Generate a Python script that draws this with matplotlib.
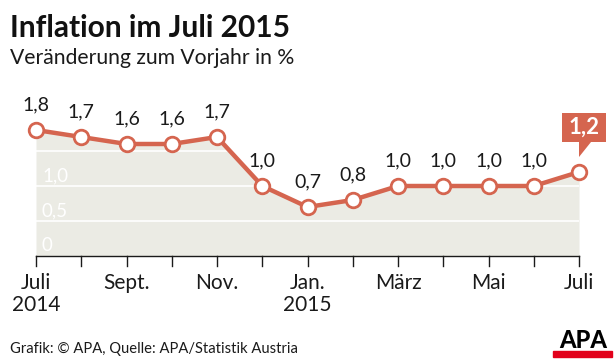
import matplotlib
matplotlib.use('Agg')
import matplotlib.pyplot as plt
from matplotlib.patches import Polygon, Rectangle
from matplotlib.transforms import IdentityTransform

# data
months = list(range(13))
values = [1.8, 1.7, 1.6, 1.6, 1.7, 1.0, 0.7, 0.8, 1.0, 1.0, 1.0, 1.0, 1.2]
value_labels = ['1,8', '1,7', '1,6', '1,6', '1,7', '1,0', '0,7', '0,8', '1,0', '1,0', '1,0', '1,0', '1,2']
tick_pos = [0, 2, 4, 6, 8, 10, 12]
tick_labels = ['Juli\n2014', 'Sept.', 'Nov.', 'Jan.\n2015', 'März', 'Mai', 'Juli']
grid_vals = [0.5, 1.0, 1.5]
ylab_vals = [0, 0.5, 1.0]
ylab_text = ['0', '0,5', '1,0']

RED = '#d5654f'
FILL = '#ebebe4'
FONT = 'Lato'

W, H = 616, 364
fig = plt.figure(figsize=(W / 100, H / 100), dpi=100)
ax = fig.add_axes([36 / W, 108 / H, 543 / W, 182 / H])
ax.set_xlim(0, 12)
ax.set_ylim(0, 2.6)
ax.axis('off')

ax.fill_between(months, 0, values, color=FILL, lw=0, zorder=1)
for g in grid_vals:
    ax.axhline(g, color='white', lw=1.2, zorder=2)
for v, t in zip(ylab_vals, ylab_text):
    ax.annotate(t, (0, v), xytext=(6, 2), textcoords='offset pixels', color='white',
                fontsize=13.5, family=FONT, ha='left', va='bottom', zorder=2)

ax.plot(months, values, color=RED, lw=3.2, zorder=3, solid_joinstyle='round',
        marker='o', ms=10.5, mfc='white', mec=RED, mew=2, clip_on=False)

for x, v, t in zip(months[:-1], values[:-1], value_labels[:-1]):
    ax.annotate(t, (x, v), xytext=(0, 17), textcoords='offset pixels', ha='center',
                va='bottom', fontsize=14, family=FONT, color='#1a1a1a')

# callout for the last value
px, py = ax.transData.transform((months[-1], values[-1]))
top = H - 113
bot = H - 142
tip = H - 157
box = Polygon([(px - 17, bot), (px - 17, top), (px + 27, top), (px + 27, bot),
               (px + 12, bot), (px, tip), (px, bot)],
              closed=True, transform=IdentityTransform(), facecolor=RED, edgecolor='none')
fig.artists.append(box)
fig.text((px + 5) / W, (top + bot) / 2 / H, value_labels[-1], color='white', fontsize=16,
         fontweight='bold', family=FONT, ha='center', va='center')

# x axis
ax.plot([0, 12], [0, 0], color='#1a1a1a', lw=1, clip_on=False, zorder=4)
for m in months:
    ax.plot([m, m], [0, -10 / 70], color='#1a1a1a', lw=1, clip_on=False, zorder=4)
for p, t in zip(tick_pos, tick_labels):
    ax.annotate(t, (p, 0), xytext=(0, -17), textcoords='offset pixels', ha='center',
                va='top', fontsize=15, family=FONT, color='#1a1a1a', linespacing=1.15)

fig.text(10 / W, 1 - 28 / H, 'Inflation im Juli 2015', fontsize=21.5, fontweight='bold',
         family=FONT, va='center', ha='left', color='#111111')
fig.text(10 / W, 1 - 58 / H, 'Veränderung zum Vorjahr in %', fontsize=15.2,
         family=FONT, va='center', ha='left', color='#1a1a1a')
fig.text(10 / W, 1 - 349 / H, 'Grafik: © APA, Quelle: APA/Statistik Austria', fontsize=10.6,
         family=FONT, va='center', ha='left', color='#1a1a1a')

# APA logo
fig.text(583 / W, 1 - 341 / H, 'APA', fontsize=17, fontweight='black', family=FONT,
         ha='center', va='center', color='black')
fig.patches.append(Rectangle((553 / W, 1 - 357 / H), 59 / W, 6 / H,
                             transform=fig.transFigure, color='#e2001a'))

fig.savefig('out.png', dpi=100)
